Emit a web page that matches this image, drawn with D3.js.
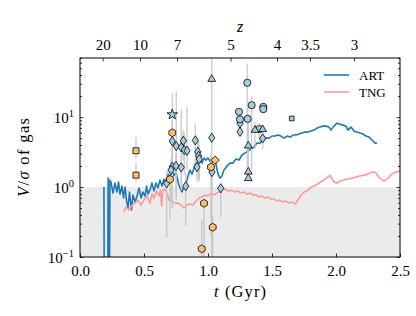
<!DOCTYPE html>
<html>
<head>
<meta charset="utf-8">
<script src="https://cdn.jsdelivr.net/npm/d3@7"></script>
<style>
body { margin: 0; background: #fff; }
</style>
</head>
<body>
<script>
// ---- data ----
const xTicks = [0, 0.5, 1.0, 1.5, 2.0, 2.5];
const yMajor = [0.1, 1, 10];
const yExp = ['\u22121', '0', '1'];
const zLabels = ['20', '10', '7', '5', '4', '3.5', '3'];
const zTickT = [0.177, 0.469, 0.758, 1.176, 1.539, 1.797, 2.141];

// ART line [t, V/sigma]
const artLine = [
  [0.187, 1.0], [0.190, 0.01], [0.216, 0.01], [0.220, 1.34], [0.224, 0.01], [0.228, 0.01], [0.234, 1.26],
  [0.242, 1.18], [0.258, 0.82], [0.273, 1.14], [0.289, 0.85], [0.301, 1.18], [0.3125, 0.79], [0.328, 1.03],
  [0.340, 0.70], [0.352, 1.0], [0.363, 0.65], [0.375, 0.50], [0.387, 0.85], [0.402, 0.47], [0.414, 0.77],
  [0.430, 0.61], [0.445, 0.74], [0.461, 0.97], [0.477, 0.70], [0.492, 0.85], [0.508, 0.74], [0.520, 1.03],
  [0.531, 0.79], [0.547, 0.91], [0.5625, 1.14], [0.578, 0.88], [0.594, 1.14], [0.609, 0.97], [0.625, 1.26],
  [0.641, 1.03], [0.656, 1.30], [0.672, 1.10], [0.6875, 1.53], [0.703, 1.34], [0.719, 1.81], [0.734, 1.44],
  [0.75, 1.64], [0.766, 1.18], [0.781, 0.97], [0.797, 0.85], [0.8125, 1.03], [0.828, 1.10], [0.844, 1.44],
  [0.859, 1.75], [0.875, 1.53], [0.891, 1.87], [0.906, 2.28], [0.922, 2.13], [0.9375, 2.43], [0.953, 2.20],
  [0.969, 2.60], [0.984, 2.43], [1.0, 2.60], [1.016, 2.35], [1.031, 2.20], [1.047, 2.43], [1.0625, 2.13],
  [1.078, 1.53], [1.094, 1.34], [1.109, 1.44], [1.125, 1.75], [1.148, 1.99], [1.172, 2.20], [1.195, 2.20],
  [1.219, 2.51], [1.242, 2.43], [1.266, 2.87], [1.289, 3.06], [1.3125, 3.27], [1.336, 3.49], [1.359, 3.73],
  [1.383, 4.25], [1.406, 4.25], [1.430, 4.70], [1.453, 5.01], [1.477, 5.01], [1.5, 5.36], [1.523, 5.36],
  [1.547, 5.54], [1.570, 5.36], [1.594, 5.01], [1.617, 5.36], [1.641, 5.18], [1.664, 5.54], [1.6875, 5.54],
  [1.711, 5.73], [1.734, 5.92], [1.758, 6.11], [1.781, 6.11], [1.805, 6.31], [1.828, 6.52], [1.852, 6.96],
  [1.875, 7.20], [1.898, 7.43], [1.922, 7.43], [1.945, 7.20], [1.961, 6.52], [1.984, 7.43], [2.008, 8.19],
  [2.031, 7.93], [2.055, 7.68], [2.078, 7.43], [2.094, 6.52], [2.117, 7.20], [2.141, 6.31], [2.164, 6.11],
  [2.1875, 5.92], [2.211, 5.73], [2.234, 5.36], [2.258, 5.18], [2.281, 4.70], [2.305, 4.25], [2.320, 4.25]
];

// TNG line [t, V/sigma]
const tngLine = [
  [0.340, 0.439], [0.359, 0.518], [0.383, 0.469], [0.406, 0.553], [0.430, 0.59], [0.453, 0.652], [0.477, 0.553],
  [0.5, 0.652], [0.523, 0.744], [0.547, 0.59], [0.5625, 0.794], [0.578, 0.696], [0.598, 0.877], [0.617, 0.744],
  [0.629, 0.906], [0.638, 0.535], [0.648, 0.906], [0.664, 0.937], [0.680, 0.794], [0.695, 0.652], [0.719, 0.631],
  [0.742, 0.59], [0.766, 0.59], [0.789, 0.553], [0.8125, 0.501], [0.836, 0.553], [0.859, 0.572], [0.883, 0.553],
  [0.906, 0.631], [0.930, 0.696], [0.953, 0.72], [0.977, 0.769], [1.0, 0.744], [1.023, 0.821], [1.047, 0.769],
  [1.070, 0.821], [1.094, 0.862], [1.117, 0.968], [1.141, 0.906], [1.164, 0.877], [1.1875, 0.906], [1.211, 0.848],
  [1.234, 0.877], [1.258, 0.821], [1.281, 0.848], [1.305, 0.794], [1.328, 0.821], [1.352, 0.769], [1.375, 0.769],
  [1.398, 0.72], [1.422, 0.744], [1.445, 0.696], [1.469, 0.72], [1.492, 0.674], [1.516, 0.674], [1.539, 0.631],
  [1.5625, 0.652], [1.586, 0.61], [1.609, 0.631], [1.633, 0.59], [1.656, 0.61], [1.680, 0.572], [1.703, 0.652],
  [1.727, 0.769], [1.75, 0.848], [1.773, 0.877], [1.797, 0.968], [1.820, 1.03], [1.844, 1.07], [1.867, 1.14],
  [1.891, 1.22], [1.914, 1.30], [1.9375, 1.39], [1.953, 1.48], [1.969, 1.30], [1.984, 1.18], [2.008, 1.14],
  [2.031, 1.22], [2.0625, 1.26], [2.094, 1.30], [2.125, 1.34], [2.156, 1.39], [2.1875, 1.44], [2.219, 1.48],
  [2.25, 1.53], [2.281, 1.64], [2.305, 1.64], [2.328, 1.44], [2.352, 1.30], [2.375, 1.22], [2.398, 1.30],
  [2.422, 1.44], [2.445, 1.58], [2.469, 1.64], [2.5, 1.69]
];

// observations [t, value, errLow, errHigh]
const blueDiamonds = [
  [0.721, 4.54, 1.6, 9.0], [0.752, 3.85, 0.65, 23], [0.807, 4.58, 2.4, 6.5], [0.791, 3.69, 1.1, 12.6],
  [0.815, 3.38, 1.5, 6.0], [0.836, 3.30, 1.75, 14], [0.901, 4.65, 2.0, 8.0], [0.920, 3.19, 1.5, 5.0],
  [0.927, 2.80, 1.3, 4.5], [0.932, 2.51, 1.2, 4.0], [0.914, 1.93, 1.2, 3.0], [1.029, 5.07, null, null],
  [1.031, 1.64, 0.9, 2.2], [0.721, 1.95, 0.5, 3.0], [0.711, 1.75, 0.6, 2.5], [0.75, 2.0, 0.8, 3.0],
  [0.791, 1.91, 0.9, 2.8], [0.677, 1.13, 0.19, 1.7], [0.826, 1.03, 0.28, 1.6], [1.10, 0.96, 0.37, 1.0],
  [1.25, 8.12, null, null], [1.25, 6.17, null, null], [1.427, 4.96, 3.5, 6.5]
];
const blueCircles = [
  [1.307, 31.0, 1.75, 59], [1.341, 14.8, 1.75, 20], [1.432, 14.0, null, null], [1.432, 13.0, null, null],
  [1.242, 11.9, null, null], [1.25, 9.29, null, null], [1.31, 9.45, 4.0, 14], [1.401, 6.74, 4.25, 8.2]
];
const blueTriangles = [
  [1.029, 34.9, 0.05, 80], [1.367, 6.52, 3.5, 8.5], [1.427, 6.68, null, null], [1.315, 3.89, 1.6, 9.0],
  [1.315, 1.65, null, null], [1.315, 1.33, null, null]
];
const blueStars = [[0.721, 10.9, 2.0, 22]];
const blueSquares = [[1.654, 9.56, null, null]];
const orangeSquares = [[0.4375, 3.30, 2.6, 5.2], [0.4375, 1.48, 1.2, 2.2]];
const orangeHexagons = [
  [0.721, 5.97, null, null], [0.703, 1.29, 0.34, 1.9], [1.023, 1.93, 0.2, 3.0], [0.969, 0.585, 0.05, 0.585],
  [1.037, 0.266, 0.05, 0.4], [0.951, 0.131, 0.05, 0.34]
];
const orangeDiamonds = [[1.055, 2.43, null, null]];

// ---- chart ----
const w = 416;
const h = 316;
const pLeft = 80, pRight = 400, pTop = 58, pBottom = 257;
const serif = '"Liberation Serif"';
const fs = '15px';

const svg = d3.select('body')
  .append('svg')
  .attr('width', w)
  .attr('height', h)
  .style('font-family', serif);

const xScale = d3.scaleLinear().domain([0, 2.5]).range([pLeft, pRight]);
const yScale = d3.scaleLog().domain([0.1, 70]).range([pBottom, pTop]);

svg.append('clipPath').attr('id', 'clip')
  .append('rect')
  .attr('x', pLeft).attr('y', pTop)
  .attr('width', pRight - pLeft).attr('height', pBottom - pTop);

// shaded region below V/sigma = 1
svg.append('rect')
  .attr('x', xScale(0))
  .attr('y', yScale(1))
  .attr('width', xScale(2.5) - xScale(0))
  .attr('height', yScale(0.1) - yScale(1))
  .attr('fill', '#ebebeb');

const plot = svg.append('g').attr('clip-path', 'url(#clip)');

const line = d3.line()
  .x((d) => xScale(d[0]))
  .y((d) => yScale(d[1]));

plot.append('path')
  .datum(artLine)
  .attr('d', line)
  .attr('fill', 'none')
  .attr('stroke', '#1f78b4')
  .attr('stroke-width', 1.6)
  .attr('stroke-linejoin', 'round');

plot.append('path')
  .datum(tngLine)
  .attr('d', line)
  .attr('fill', 'none')
  .attr('stroke', '#fb9a99')
  .attr('stroke-width', 1.6)
  .attr('stroke-linejoin', 'round');

// marker shapes
const diamondPath = 'M0,-4.6L3.1,0L0,4.6L-3.1,0Z';
const hexPath = (function() {
  const r = 3.9;
  const pts = d3.range(6).map((i) => {
    const a = -Math.PI / 2 + i * Math.PI / 3;
    return [r * Math.cos(a), r * Math.sin(a)];
  });
  return 'M' + pts.map((p) => p[0].toFixed(2) + ',' + p[1].toFixed(2)).join('L') + 'Z';
})();

const groups = [
  {data: blueDiamonds, fill: '#a6cee3', path: diamondPath},
  {data: blueCircles, fill: '#a6cee3', path: d3.symbol().type(d3.symbolCircle).size(40)()},
  {data: blueTriangles, fill: '#a6cee3', path: d3.symbol().type(d3.symbolTriangle).size(26)()},
  {data: blueStars, fill: '#a6cee3', path: d3.symbol().type(d3.symbolStar).size(34)()},
  {data: blueSquares, fill: '#a6cee3', path: d3.symbol().type(d3.symbolSquare).size(22)()},
  {data: orangeSquares, fill: '#fdbf6f', path: d3.symbol().type(d3.symbolSquare).size(36)()},
  {data: orangeHexagons, fill: '#fdbf6f', path: hexPath},
  {data: orangeDiamonds, fill: '#fdbf6f', path: 'M0,-4.2L4.2,0L0,4.2L-4.2,0Z'}
];

const allPoints = groups.flatMap((g) => g.data);

// error bars
plot.selectAll('line.err')
  .data(allPoints.filter((d) => d[2] !== null))
  .enter()
  .append('line')
  .attr('class', 'err')
  .attr('x1', (d) => xScale(d[0]))
  .attr('x2', (d) => xScale(d[0]))
  .attr('y1', (d) => yScale(d[2]))
  .attr('y2', (d) => yScale(d[3]))
  .attr('stroke', '#c4c4c4')
  .attr('stroke-opacity', 0.8)
  .attr('stroke-width', 1.5);

groups.forEach((g) => {
  plot.selectAll(null)
    .data(g.data)
    .enter()
    .append('path')
    .attr('d', g.path)
    .attr('transform', (d) => 'translate(' + xScale(d[0]) + ',' + yScale(d[1]) + ')')
    .attr('fill', g.fill)
    .attr('stroke', '#000')
    .attr('stroke-width', 0.8);
});

// axes
const yMinor = [];
[0.1, 1, 10].forEach((dec) => {
  for (let k = 2; k <= 9; k++) {
    if (dec * k <= 70) yMinor.push(dec * k);
  }
});

function styleAxis(g) {
  g.attr('font-family', null).attr('font-size', null);
  g.select('.domain').remove();
  g.selectAll('.tick line').attr('stroke', '#000').attr('stroke-width', 0.8);
  g.selectAll('.tick text')
    .attr('fill', '#000')
    .style('font-size', fs)
    .style('font-family', serif);
}

svg.append('g')
  .attr('transform', 'translate(0,' + pBottom + ')')
  .call(d3.axisBottom(xScale).tickValues(xTicks).tickFormat(d3.format('.1f')).tickSize(-3.5).tickPadding(8))
  .call(styleAxis);

svg.append('g')
  .attr('transform', 'translate(0,' + pTop + ')')
  .call(d3.axisTop(xScale).tickValues(zTickT).tickFormat((d, i) => zLabels[i]).tickSize(-3.5).tickPadding(8))
  .call(styleAxis);

svg.append('g')
  .attr('transform', 'translate(' + pLeft + ',0)')
  .call(d3.axisLeft(yScale).tickValues(yMajor).tickFormat('').tickSize(-3.5))
  .call(styleAxis);
svg.append('g')
  .attr('transform', 'translate(' + pLeft + ',0)')
  .call(d3.axisLeft(yScale).tickValues(yMinor).tickFormat('').tickSize(-2))
  .call(styleAxis);
svg.append('g')
  .attr('transform', 'translate(' + pRight + ',0)')
  .call(d3.axisRight(yScale).tickValues(yMajor).tickFormat('').tickSize(-3.5))
  .call(styleAxis);
svg.append('g')
  .attr('transform', 'translate(' + pRight + ',0)')
  .call(d3.axisRight(yScale).tickValues(yMinor).tickFormat('').tickSize(-2))
  .call(styleAxis);

// y tick labels with exponents
yMajor.forEach((v, i) => {
  const t = svg.append('text')
    .attr('x', pLeft - 6)
    .attr('y', yScale(v) + 6)
    .attr('text-anchor', 'end')
    .style('font-family', serif)
    .style('font-size', fs);
  t.append('tspan').text('10');
  t.append('tspan').attr('dy', -6.5).style('font-size', '10.5px').text(yExp[i]);
});

// frame
svg.append('rect')
  .attr('x', pLeft).attr('y', pTop)
  .attr('width', pRight - pLeft).attr('height', pBottom - pTop)
  .attr('fill', 'none')
  .attr('stroke', '#000')
  .attr('stroke-width', 1);

// axis titles
const xl = svg.append('text')
  .attr('x', (pLeft + pRight) / 2)
  .attr('y', 297)
  .attr('text-anchor', 'middle')
  .attr('textLength', 52)
  .attr('lengthAdjust', 'spacing')
  .style('font-family', serif)
  .style('font-size', '16.5px');
xl.append('tspan').style('font-style', 'italic').text('t');
xl.append('tspan').text(' (Gyr)');

svg.append('text')
  .attr('x', (pLeft + pRight) / 2)
  .attr('y', 32)
  .attr('text-anchor', 'middle')
  .style('font-family', serif)
  .style('font-size', '16px')
  .style('font-style', 'italic')
  .text('z');

const yl = svg.append('text')
  .attr('transform', 'translate(29,' + (pTop + pBottom) / 2 + ') rotate(-90)')
  .attr('text-anchor', 'middle')
  .attr('textLength', 79)
  .attr('lengthAdjust', 'spacing')
  .style('font-family', serif)
  .style('font-size', '16.5px');
yl.append('tspan').style('font-style', 'italic').text('V');
yl.append('tspan').text('/');
yl.append('tspan').style('font-style', 'italic').text('\u03c3');
yl.append('tspan').text(' of gas');

// legend
const legend = [
  {name: 'ART', color: '#1f78b4', y: 75},
  {name: 'TNG', color: '#fb9a99', y: 92}
];
legend.forEach((d) => {
  svg.append('line')
    .attr('x1', 324).attr('x2', 349)
    .attr('y1', d.y).attr('y2', d.y)
    .attr('stroke', d.color)
    .attr('stroke-width', 1.6);
  svg.append('text')
    .attr('x', 359)
    .attr('y', d.y + 4.5)
    .style('font-family', serif)
    .style('font-size', '13px')
    .text(d.name);
});
</script>
</body>
</html>
